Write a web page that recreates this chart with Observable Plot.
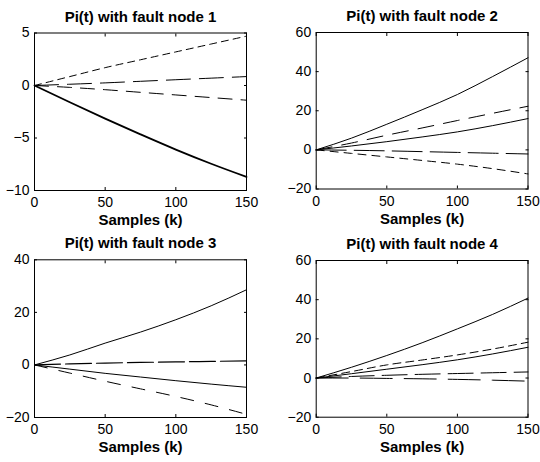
<!DOCTYPE html>
<html><head><meta charset="utf-8">
<script src="https://cdn.jsdelivr.net/npm/d3@7"></script>
<script src="https://cdn.jsdelivr.net/npm/@observablehq/plot@0.6"></script>
<style>
body{margin:0;background:#fff;}
#wrap{position:relative;width:540px;height:462px;overflow:hidden;}
#wrap > svg{position:absolute;}
</style></head><body><div id="wrap"></div>
<script>
// ---- data ----
const samples = [0, 25, 50, 75, 100, 125, 150];
const xTicks = [0, 50, 100, 150];
const xLabel = "Samples (k)";
const titles = ["Pi(t) with fault node 1", "Pi(t) with fault node 2", "Pi(t) with fault node 3", "Pi(t) with fault node 4"];
const yDomains = [[-10, 5], [-20, 60], [-20, 40], [-20, 60]];
const yTicks1 = [-10, -5, 0, 5];
const yTicks2 = [-20, 0, 20, 40, 60];
const yTicks3 = [-20, 0, 20, 40];
const yTicks4 = [-20, 0, 20, 40, 60];

const p1_up   = [0, 0.85, 1.7, 2.45, 3.2, 3.95, 4.7];
const p1_flat = [0, 0.12, 0.25, 0.4, 0.55, 0.7, 0.85];
const p1_neg  = [0, -0.18, -0.4, -0.65, -0.9, -1.15, -1.4];
const p1_down = [0, -1.6, -3.15, -4.65, -6.1, -7.45, -8.7];

const p2_a = [0, 6, 13.1, 20.5, 28.3, 37.5, 47.1];
const p2_b = [0, 3.5, 7.5, 11.2, 15, 18.7, 22.3];
const p2_c = [0, 2, 4.2, 6.6, 9.2, 12.4, 16];
const p2_d = [0, -0.2, -0.5, -0.9, -1.3, -1.7, -2.1];
const p2_e = [0, -1.8, -3.6, -5.4, -7.3, -9.6, -12.3];

const p3_a = [0, 3.8, 8.3, 12.5, 17.2, 22.5, 28.6];
const p3_b = [0, 0.4, 0.7, 0.95, 1.15, 1.35, 1.55];
const p3_c = [0, -1.6, -3.2, -4.6, -6, -7.3, -8.5];
const p3_d = [0, -3.1, -6.2, -9.1, -12, -15.2, -18.8];

const p4_a = [0, 5.5, 11.5, 18, 25.1, 32.5, 40.8];
const p4_b = [0, 3.3, 6.7, 9.2, 11.8, 14.8, 18.3];
const p4_c = [0, 2.2, 4.5, 6.8, 9.3, 12.3, 15.7];
const p4_d = [0, 0.8, 1.4, 1.9, 2.3, 2.7, 3.1];
const p4_e = [0, 0, -0.2, -0.4, -0.7, -1.1, -1.6];

// ---- styles / layout ----
const panels = [
  {title: titles[0], yDomain: yDomains[0], yTicks: yTicks1, left: 0, top: 0,
   margins: {marginLeft: 34, marginRight: 24, marginTop: 32.5, marginBottom: 41},
   series: [
     {v: p1_up, dash: "7,5", w: 1},
     {v: p1_flat, dash: "24,9", w: 1},
     {v: p1_neg, dash: "14,9", w: 1},
     {v: p1_down, dash: null, w: 1.8}
   ]},
  {title: titles[1], yDomain: yDomains[1], yTicks: yTicks2, left: 270, top: 0,
   margins: {marginLeft: 45.7, marginRight: 12.5, marginTop: 32, marginBottom: 42.5},
   series: [
     {v: p2_a, dash: null, w: 1},
     {v: p2_b, dash: "16,10", w: 1},
     {v: p2_c, dash: null, w: 1},
     {v: p2_d, dash: "30,8", w: 1},
     {v: p2_e, dash: "8,6", w: 1}
   ]},
  {title: titles[2], yDomain: yDomains[2], yTicks: yTicks3, left: 0, top: 231,
   margins: {marginLeft: 34, marginRight: 24, marginTop: 28.3, marginBottom: 45},
   series: [
     {v: p3_a, dash: null, w: 1},
     {v: p3_b, dash: "26,5", w: 1.2},
     {v: p3_c, dash: null, w: 1},
     {v: p3_d, dash: "13,12", w: 1}
   ]},
  {title: titles[3], yDomain: yDomains[3], yTicks: yTicks4, left: 270, top: 231,
   margins: {marginLeft: 45.7, marginRight: 12.5, marginTop: 29, marginBottom: 45.3},
   series: [
     {v: p4_a, dash: null, w: 1},
     {v: p4_b, dash: "8,5", w: 1},
     {v: p4_c, dash: null, w: 1},
     {v: p4_d, dash: "25,8", w: 1},
     {v: p4_e, dash: "32,12", w: 1}
   ]}
];

const wrap = document.getElementById("wrap");
const blank = () => "";
for (const p of panels) {
  const lineMarks = p.series.map((s) => {
    const rows = s.v.map((v, j) => ({k: samples[j], v}));
    return Plot.line(rows, {x: "k", y: "v", stroke: "#000", strokeWidth: s.w,
      strokeDasharray: s.dash || undefined, curve: "monotone-x"});
  });
  const svg = Plot.plot({
    width: 270, height: 231, ...p.margins,
    x: {domain: [0, 150]},
    y: {domain: p.yDomain},
    style: {fontFamily: "'Liberation Sans', Arial, sans-serif", fontSize: "14px", color: "#000", background: "transparent"},
    marks: [
      ...lineMarks,
      Plot.frame({stroke: "#000", strokeWidth: 1}),
      Plot.axisX({ticks: xTicks, tickSize: 0, tickPadding: 7, fontSize: 14, label: null}),
      Plot.axisX({ticks: xTicks, tickSize: -3, tickFormat: blank, label: null}),
      Plot.axisX({anchor: "top", ticks: xTicks, tickSize: -3, tickFormat: blank, label: null}),
      Plot.axisY({ticks: p.yTicks, tickSize: 0, tickPadding: 5, fontSize: 14, label: null}),
      Plot.axisY({ticks: p.yTicks, tickSize: -3, tickFormat: blank, label: null}),
      Plot.axisY({anchor: "right", ticks: p.yTicks, tickSize: -3, tickFormat: blank, label: null}),
      Plot.text([p.title], {frameAnchor: "top", lineAnchor: "middle", dy: -16.3, fontSize: 15, fontWeight: "bold"}),
      Plot.text([xLabel], {frameAnchor: "bottom", lineAnchor: "middle", dy: 29.7, fontSize: 15, fontWeight: "bold"})
    ]
  });
  svg.style.left = p.left + "px";
  svg.style.top = p.top + "px";
  wrap.appendChild(svg);
}
</script></body></html>
